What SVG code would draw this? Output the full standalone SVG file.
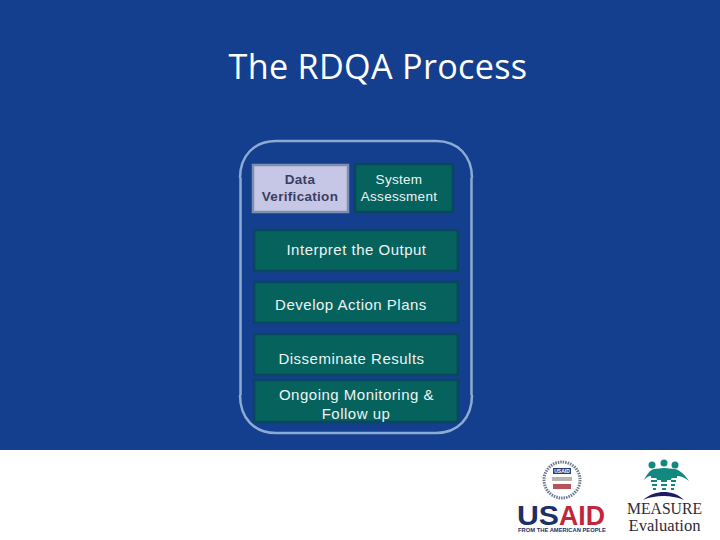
<svg xmlns="http://www.w3.org/2000/svg" width="720" height="540" viewBox="0 0 720 540">
<style>
.box{fill:#05625c;stroke:#0a4562;stroke-width:2.5}
.t{font-family:"Liberation Sans",Arial,sans-serif;font-size:15px;letter-spacing:.5px;fill:#eef4f4;text-anchor:middle}
.d{font-family:"Liberation Sans",Arial,sans-serif;font-size:13.5px;letter-spacing:.3px;font-weight:bold;fill:#3a3f5f;text-anchor:middle}
.s{font-family:"Liberation Sans",Arial,sans-serif;font-size:13.5px;letter-spacing:.3px;fill:#eef4f4;text-anchor:middle}
.teal{fill:#11897f}
.st{stroke:#11897f;stroke-width:2;fill:none}
</style>
<rect width="720" height="450" fill="#143f8f"/>
<rect y="450" width="720" height="90" fill="#fff"/>
<text x="378" y="79" font-family="'Open Sans','Liberation Sans',sans-serif" font-size="34.200" letter-spacing=".3" fill="#fff" text-anchor="middle">The RDQA Process</text>
<g id="connectors"></g>
<g id="frame"><path d="M240 178C240 156 254 141 276 141H436C458 141 472 156 472 178M472 395C472 418 458 433 436 433H276C254 433 240 418 240 395M240.500 178V395M471.500 178V395" fill="none" stroke="#8cabd4" stroke-width="2.5"/></g>
<g id="n-data"><rect x="253" y="165" width="95" height="47" fill="#c6c6e6" stroke="#7e8fb0" stroke-width="2.5"/><text class="d" x="300" y="184">Data</text><text class="d" x="300" y="201">Verification</text></g>
<g id="n-system"><rect class="box" x="355" y="164" width="98" height="48"/><text class="s" x="399" y="184">System</text><text class="s" x="399" y="201">Assessment</text></g>
<g id="n-interpret"><rect class="box" x="254" y="230" width="204" height="41"/><text class="t" x="356.500" y="255">Interpret the Output</text></g>
<g id="n-develop"><rect class="box" x="254" y="282" width="204" height="41"/><text class="t" x="351" y="310">Develop Action Plans</text></g>
<g id="n-disseminate"><rect class="box" x="254" y="334" width="204" height="41"/><text class="t" x="351.500" y="364">Disseminate Results</text></g>
<g id="n-ongoing"><rect class="box" x="254" y="380" width="204" height="42"/><text class="t" x="356.500" y="400">Ongoing Monitoring &amp;</text><text class="t" x="356" y="419">Follow up</text></g>
<g id="usaid-logo">
<circle cx="562" cy="480" r="18" fill="#fff" stroke="#6f7a90" stroke-width="3" stroke-dasharray="1.500 1"/>
<rect x="553" y="468" width="18" height="6" fill="#2c3c78"/>
<text x="562" y="473" font-family="'Liberation Sans',sans-serif" font-size="5" font-weight="bold" fill="#fff" text-anchor="middle">USAID</text>
<rect x="552" y="477" width="20" height="4" fill="#b9b2ae"/>
<rect x="553" y="484" width="18" height="5" fill="#b8525a"/>
<text x="517" y="524.500" font-family="'Liberation Sans',sans-serif" font-size="27" font-weight="bold" fill="#1c2f66" textLength="42" lengthAdjust="spacingAndGlyphs">US</text>
<text x="559" y="524.500" font-family="'Liberation Sans',sans-serif" font-size="27" font-weight="bold" fill="#c2263c" textLength="46" lengthAdjust="spacingAndGlyphs">AID</text>
<text x="518" y="531.500" font-family="'Liberation Sans',sans-serif" font-size="6" font-weight="bold" fill="#1c2f66" textLength="88" lengthAdjust="spacingAndGlyphs">FROM THE AMERICAN PEOPLE</text>
</g>
<g id="measure-logo">
<circle class="teal" cx="652" cy="465" r="3.500"/><circle class="teal" cx="664" cy="463" r="3.500"/><circle class="teal" cx="675" cy="465" r="3.500"/>
<path class="teal" d="M644 480C647 474 650 470 654 469L664 468L675 469C680 470 685 475 689 481C684 477 680 476 677 476L672 477L671 480H657L656 477L651 476C648 476 646 478 644 480Z"/>
<path class="st" d="M651 477H657M651 481H657M652 485H657M653 489H656M661 477H667M661 481H667M661 485H667M662 489H666M671 477H677M671 481H676M671 485H675M671 489H674"/>
<path d="M643 500C650 494 657 492 664 492C671 492 678 494 684 500C677 497 670 496 664 496C656 496 650 497 643 500Z" fill="#1c1c66"/>
<text x="664.500" y="514" font-family="'Liberation Serif',serif" font-size="17" fill="#2c2c3a" text-anchor="middle" textLength="75" lengthAdjust="spacingAndGlyphs">MEASURE</text>
<text x="664.500" y="531" font-family="'Liberation Serif',serif" font-size="16" fill="#2c2c3a" text-anchor="middle" textLength="72" lengthAdjust="spacingAndGlyphs">Evaluation</text>
</g>
</svg>
